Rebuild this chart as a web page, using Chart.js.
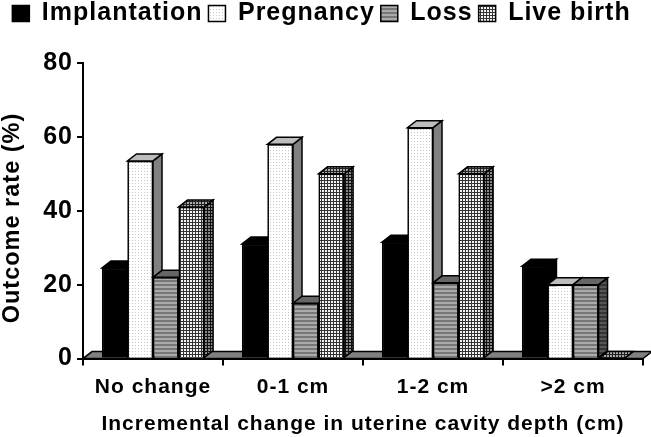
<!DOCTYPE html>
<html>
<head>
<meta charset="utf-8">
<style>
  html, body { margin: 0; padding: 0; background: #fff; }
  canvas { display: block; }
</style>
<script src="https://cdn.jsdelivr.net/npm/chart.js@4"></script>
</head>
<body>
<canvas id="chart" width="651" height="437"></canvas>
<script>
const categories = ["No change", "0-1 cm", "1-2 cm", ">2 cm"];
const implantation = [24.5, 31, 31.5, 25];
const pregnancy = [53.5, 58, 62.5, 20];
const loss = [22, 15, 20.5, 20];
const liveBirth = [41, 50, 50, 0];

const FONT = "'Liberation Sans', Arial, sans-serif";
const DEPTH_X = 9;
const DEPTH_Y = 7;

function makePattern(size, bg, paint) {
    const c = document.createElement("canvas");
    c.width = size;
    c.height = size;
    const g = c.getContext("2d");
    g.fillStyle = bg;
    g.fillRect(0, 0, size, size);
    paint(g);
    return g.createPattern(c, "repeat");
}

const dots = (color) => (g) => { g.fillStyle = color; g.fillRect(0, 0, 1, 1); };
const stripes = (color) => (g) => { g.fillStyle = color; g.fillRect(0, 0, 4, 2); };
const mesh = (color) => (g) => { g.fillStyle = color; g.fillRect(0, 0, 3, 1); g.fillRect(0, 0, 1, 3); };

const faces = [
    { front: "#000", top: "#000", side: "#000" },
    { front: makePattern(3, "#fff", dots("#c8c8c8")), top: "#bdbdbd", side: "#808080" },
    { front: makePattern(4, "#aaa", stripes("#777")), top: "#666", side: makePattern(4, "#555", stripes("#333")) },
    { front: makePattern(3, "#f4f4f4", mesh("#333")), top: makePattern(3, "#aaa", mesh("#222")), side: makePattern(3, "#888", mesh("#111")) }
];

function parallelogram(ctx, x1, y1, x2, y2, fill) {
    ctx.beginPath();
    ctx.moveTo(x1, y1);
    ctx.lineTo(x2, y2);
    ctx.lineTo(x2 + DEPTH_X, y2 - DEPTH_Y);
    ctx.lineTo(x1 + DEPTH_X, y1 - DEPTH_Y);
    ctx.closePath();
    ctx.fillStyle = fill;
    ctx.fill();
    ctx.stroke();
}

// spacing of the original lettering, has to be set before labels are measured
const spacing = {
    id: "spacing",
    beforeUpdate(chart) { chart.ctx.letterSpacing = "1px"; },
    beforeDraw(chart) { chart.ctx.letterSpacing = "1px"; },
    afterLayout(chart) { chart.legend.top = -5; }
};

// the y title sits below the middle of the axis in the original
const yTitle = {
    id: "yTitle",
    afterDraw(chart) {
        const { ctx } = chart;
        ctx.save();
        ctx.translate(13, 218);
        ctx.rotate(-Math.PI / 2);
        ctx.font = "bold 23.5px " + FONT;
        ctx.textAlign = "center";
        ctx.textBaseline = "middle";
        ctx.fillStyle = "#000";
        ctx.fillText("Outcome rate (%)", 0, 0);
        ctx.restore();
    }
};

// 3d look: floor under the bars, then top and side of each bar from left to right
const depth = {
    id: "depth",
    beforeDatasetsDraw(chart) {
        const { ctx, chartArea, scales } = chart;
        ctx.save();
        ctx.strokeStyle = "#000";
        ctx.lineWidth = 1.5;
        parallelogram(ctx, chartArea.left, scales.y.getPixelForValue(0), chartArea.right, scales.y.getPixelForValue(0), "#808080");
        ctx.restore();
    },
    afterDatasetsDraw(chart) {
        const { ctx } = chart;
        ctx.save();
        ctx.strokeStyle = "#000";
        ctx.lineWidth = 1.5;
        for (let c = 0; c < categories.length; c++) {
            chart.data.datasets.forEach((ds, i) => {
                const bar = chart.getDatasetMeta(i).data[c];
                const left = bar.x - bar.width / 2;
                const right = bar.x + bar.width / 2;
                parallelogram(ctx, right, bar.base, right, bar.y, faces[i].side);
                parallelogram(ctx, left, bar.y, right, bar.y, faces[i].top);
                bar.draw(ctx);
            });
        }
        ctx.restore();
    }
};

function barSet(label, data, i) {
    return {
        label: label,
        data: data,
        backgroundColor: faces[i].front,
        borderColor: "#000",
        borderWidth: 1.5,
        barPercentage: 1,
        categoryPercentage: 0.73
    };
}

new Chart(document.getElementById("chart").getContext("2d"), {
    type: "bar",
    data: {
        labels: categories,
        datasets: [
            barSet("Implantation", implantation, 0),
            barSet("Pregnancy", pregnancy, 1),
            barSet("Loss", loss, 2),
            barSet("Live birth", liveBirth, 3)
        ]
    },
    plugins: [spacing, depth, yTitle],
    options: {
        responsive: false,
        animation: false,
        devicePixelRatio: 1,
        layout: { padding: { top: 22, right: 8, bottom: 0, left: 0 } },
        plugins: {
            tooltip: { enabled: false },
            legend: {
                position: "top",
                labels: {
                    color: "#000",
                    font: { family: FONT, size: 25, weight: "bold" },
                    boxWidth: 17,
                    boxHeight: 16,
                    padding: 6
                }
            }
        },
        scales: {
            x: {
                grid: { drawOnChartArea: false, color: "#000", lineWidth: 2, tickLength: 7 },
                border: { color: "#000", width: 2 },
                ticks: { color: "#000", font: { family: FONT, size: 21, weight: "bold" }, padding: 9, maxRotation: 0 },
                title: {
                    display: true,
                    text: "Incremental change in uterine cavity depth (cm)",
                    color: "#000",
                    font: { family: FONT, size: 21, weight: "bold" },
                    padding: { top: 3, bottom: 0 }
                }
            },
            y: {
                min: 0,
                max: 80,
                afterFit(scale) { scale.width = 83; },
                grid: { drawOnChartArea: false, color: "#000", lineWidth: 2, tickLength: 6 },
                border: { color: "#000", width: 2 },
                ticks: { stepSize: 20, color: "#000", font: { family: FONT, size: 25, weight: "bold" }, padding: 4 }
            }
        }
    }
});
</script>
</body>
</html>
